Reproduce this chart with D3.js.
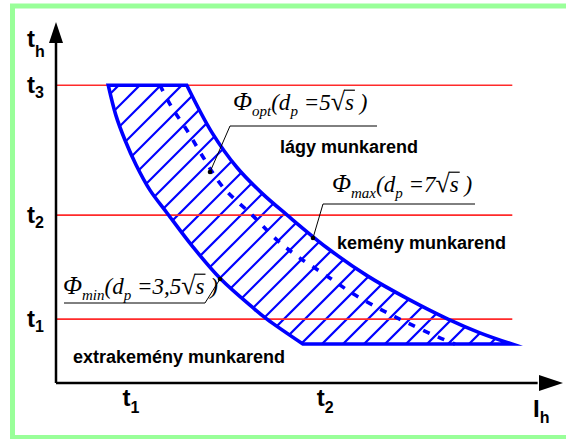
<html>
<head>
  <script src="https://cdn.jsdelivr.net/npm/d3@7"></script>
  <meta charset="UTF-8">
  <style>
  html, body { margin: 0; background: #fff; overflow: hidden; }
  svg { display: block; overflow: hidden; }
  </style>
</head>
<body>
<div id="chart"></div>
<script>

// level positions on the two axes (axis runs 0..100)
const yLevels = [17.7, 46.5, 82.5];
const yLevelSubs = ['1', '2', '3'];
const xLevels = [14.8, 53.1];
const xLevelSubs = ['1', '2'];
const levelLineEnd = 90;

// boundary curves of the hatched region, [x, y] in axis units
const phiMin = [[10.3, 82.5], [11.8, 74.2], [13.6, 67.3], [15.8, 60.4], [18.5, 53.5],
  [21.9, 47.1], [27.0, 37.7], [32.5, 28.8], [38.9, 20.8], [41.6, 17.7], [48.7, 10.8]];
const phiMax = [[25.8, 82.5], [30.8, 69.3], [35.7, 59.7], [40.6, 52.6], [45.6, 46.5],
  [53.5, 37.4], [61.5, 29.6], [69.4, 23.3], [77.3, 17.7], [83.6, 13.9], [89.9, 10.8]];
const phiOpt = [[20.5, 82.5], [22.9, 76.2], [25.8, 70.1], [29.0, 62.6], [32.9, 54.3],
  [38.7, 46.5], [43.6, 39.6], [48.1, 34.6], [53.5, 29.6], [58.6, 24.7], [64.3, 20.2],
  [69.4, 16.6], [75.4, 12.7], [78.7, 10.8]];

const W = 566, H = 439;
const blue = '#0000ff';

const svg = d3.select('#chart').append('svg')
  .attr('width', W)
  .attr('height', H);

// frame: only top, left and bottom sides are inside the picture
svg.append('path')
  .attr('d', 'M580,6 L12.5,6 L12.5,437.5 L580,437.5')
  .attr('fill', 'none')
  .attr('stroke', '#99ff99')
  .attr('stroke-width', 5);

const x = d3.scaleLinear().domain([0, 100]).range([56, 563]);
const y = d3.scaleLinear().domain([0, 100]).range([383, 22]);

const curve = d3.line()
  .x(d => x(d[0]))
  .y(d => y(d[1]))
  .curve(d3.curveCatmullRom);

// region outline: right curve down, bottom edge, left curve back up
const pRight = curve(phiMax);
const pLeft = curve(phiMin.slice().reverse());
const regionPath = pRight + 'L' + pLeft.slice(1) + 'Z';

svg.append('defs').append('clipPath').attr('id', 'regionClip')
  .append('path').attr('d', regionPath);

// hatching
const hatch = svg.append('g').attr('clip-path', 'url(#regionClip)');
const yb = y(10.8);
for (let b = 343 - 21 * 30; b < 560; b += 21) {
  hatch.append('line')
    .attr('x1', b - 20).attr('y1', yb + 20)
    .attr('x2', b + 300).attr('y2', yb - 300)
    .attr('stroke', blue)
    .attr('stroke-width', 2.2);
}

// level lines
svg.selectAll('.level')
  .data(yLevels)
  .join('line')
    .attr('class', 'level')
    .attr('x1', x(0)).attr('x2', x(levelLineEnd))
    .attr('y1', d => y(d)).attr('y2', d => y(d))
    .attr('stroke', '#ff2a2a')
    .attr('stroke-width', 1.6);

svg.append('path')
  .attr('d', regionPath)
  .attr('fill', 'none')
  .attr('stroke', blue)
  .attr('stroke-width', 3.6)
  .attr('stroke-linejoin', 'miter')
  .attr('stroke-miterlimit', 10);

svg.append('path')
  .attr('d', curve(phiOpt))
  .attr('fill', 'none')
  .attr('stroke', blue)
  .attr('stroke-width', 3.6)
  .attr('stroke-dasharray', '7,9');

// axes
svg.append('line')
  .attr('x1', x(0)).attr('y1', y(0)).attr('x2', x(0)).attr('y2', y(95))
  .attr('stroke', '#000').attr('stroke-width', 2.5);
svg.append('line')
  .attr('x1', x(0)).attr('y1', y(0)).attr('x2', x(95)).attr('y2', y(0))
  .attr('stroke', '#000').attr('stroke-width', 2.5);
svg.append('path')
  .attr('d', `M${x(0)},${y(100)} L${x(0) - 7},${y(100) + 21} L${x(0) + 7},${y(100) + 21} Z`)
  .attr('fill', '#000');
svg.append('path')
  .attr('d', `M${x(100)},${y(0)} L${x(100) - 24},${y(0) - 8} L${x(100) - 24},${y(0) + 8} Z`)
  .attr('fill', '#000');

const sans = '"Liberation Sans", Arial, sans-serif';

function subLabel(px, py, main, sub, anchor, drop) {
  const t = svg.append('text')
    .attr('x', px).attr('y', py)
    .attr('text-anchor', anchor)
    .attr('font-family', sans)
    .attr('font-weight', 'bold')
    .attr('font-size', 24)
    .attr('fill', '#000');
  t.append('tspan').text(main);
  t.append('tspan').attr('dy', drop).attr('font-size', 16).text(sub);
}

subLabel(27, 47, 't', 'h', 'start', 10);
subLabel(533, 417, 'I', 'h', 'start', 6);
yLevels.forEach((v, i) => subLabel(27, y(v) + 8, 't', yLevelSubs[i], 'start', 5));
xLevels.forEach((v, i) => subLabel(x(v), 406, 't', xLevelSubs[i], 'middle', 7));

// region names
const names = [
  {text: 'lágy munkarend', px: 280, py: 153},
  {text: 'kemény munkarend', px: 337, py: 249},
  {text: 'extrakemény munkarend', px: 73, py: 363}
];
svg.selectAll('.name')
  .data(names)
  .join('text')
    .attr('class', 'name')
    .attr('x', d => d.px).attr('y', d => d.py)
    .attr('font-family', sans)
    .attr('font-weight', 'bold')
    .attr('font-size', 18)
    .text(d => d.text);

// formula annotations
function formula(px, py, idx, coef) {
  const size = 23, subSize = 15, drop = 6;
  const t = svg.append('text')
    .attr('x', px).attr('y', py)
    .attr('font-family', '"Liberation Serif", "Times New Roman", serif')
    .attr('font-style', 'italic')
    .attr('font-size', size)
    .attr('fill', '#000');
  t.append('tspan').attr('font-size', size + 2).text('Φ');
  t.append('tspan').attr('dy', drop).attr('font-size', subSize).text(idx);
  t.append('tspan').attr('dy', -drop).text('(d');
  t.append('tspan').attr('dy', drop).attr('font-size', subSize).text('p');
  t.append('tspan').attr('dy', -drop).text(' =' + coef);
  t.append('tspan').attr('font-style', 'normal').attr('font-size', size + 3).text('√');
  t.append('tspan').text('s');
  t.append('tspan').text(' )');
  const node = t.node();
  const str = node.textContent;
  const iR = str.indexOf('√');
  const eR = node.getExtentOfChar(iR);
  const eS = node.getExtentOfChar(iR + 1);
  svg.append('line')
    .attr('x1', eR.x + eR.width - 1).attr('x2', eS.x + eS.width + 1)
    .attr('y1', py - size * 0.86).attr('y2', py - size * 0.86)
    .attr('stroke', '#000').attr('stroke-width', 1.2);
}

const notes = [
  {idx: 'opt', coef: '5', tx: 233, ty: 110, u1: 230, u2: 377, uy: 126, dot: [210, 172]},
  {idx: 'max', coef: '7', tx: 332, ty: 192, u1: 323, u2: 475, uy: 204, dot: [313, 238]},
  {idx: 'min', coef: '3,5', tx: 63, ty: 294, u1: 205, u2: 64, uy: 303, dot: [220, 279]}
];
notes.forEach(n => {
  formula(n.tx, n.ty, n.idx, n.coef);
  svg.append('path')
    .attr('d', `M${n.u2},${n.uy} L${n.u1},${n.uy} L${n.dot[0]},${n.dot[1]}`)
    .attr('fill', 'none')
    .attr('stroke', '#000')
    .attr('stroke-width', 1);
  svg.append('circle')
    .attr('cx', n.dot[0]).attr('cy', n.dot[1]).attr('r', 2.3)
    .attr('fill', '#000');
});

</script>
</body>
</html>
